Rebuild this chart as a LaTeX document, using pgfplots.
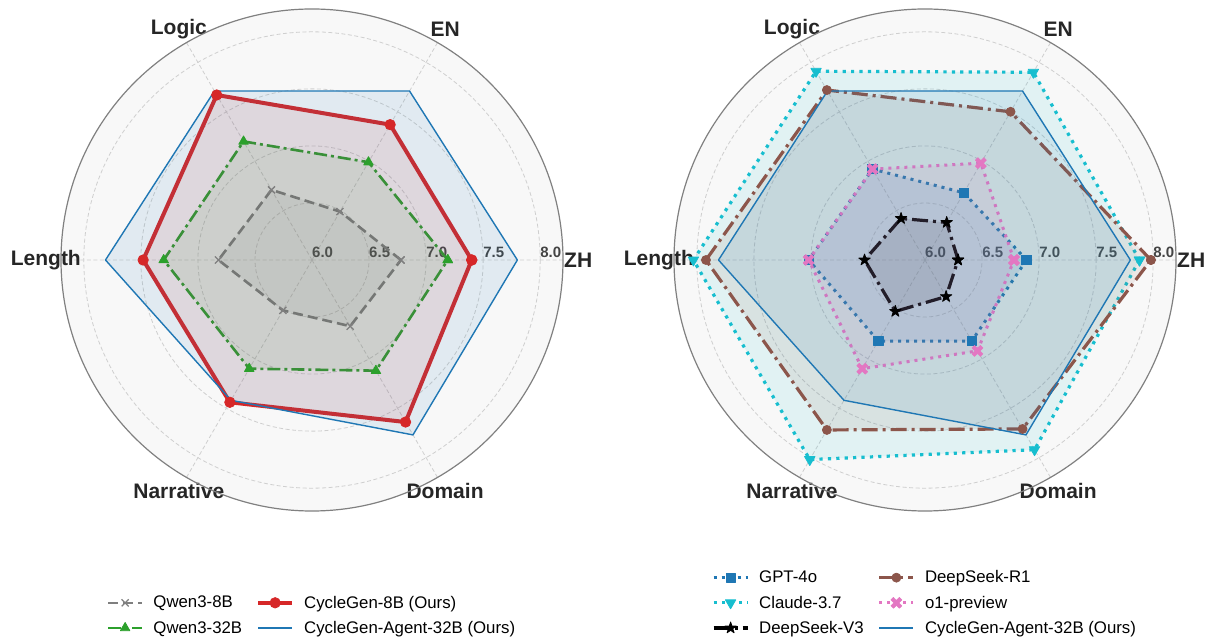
\documentclass[border=0pt]{standalone}
\usepackage{pgfplots}
\pgfplotsset{compat=1.18}
\usepackage{pgfplotstable}
\usepgfplotslibrary{polar}
\usepackage{fontspec}
\setmainfont{Liberation Sans}
\definecolor{tabblue}{HTML}{1F77B4}
\definecolor{tabred}{HTML}{D62728}
\definecolor{tabgreen}{HTML}{2CA02C}
\definecolor{tabgray}{HTML}{7F7F7F}
\definecolor{tabbrown}{HTML}{8C564B}
\definecolor{tabpink}{HTML}{E377C2}
\definecolor{tabcyan}{HTML}{17BECF}
\definecolor{bgc}{HTML}{F8F8F8}
\definecolor{gridc}{HTML}{CFCFCF}
\definecolor{framec}{HTML}{808080}
\definecolor{labc}{HTML}{262626}
\definecolor{tickc}{HTML}{444444}

\pgfdeclareplotmark{fstar}{%
 \pgfpathmoveto{\pgfpointpolar{90}{\pgfplotmarksize}}%
 \pgfpathlineto{\pgfpointpolar{126}{0.382\pgfplotmarksize}}%
 \pgfpathlineto{\pgfpointpolar{162}{\pgfplotmarksize}}%
 \pgfpathlineto{\pgfpointpolar{198}{0.382\pgfplotmarksize}}%
 \pgfpathlineto{\pgfpointpolar{234}{\pgfplotmarksize}}%
 \pgfpathlineto{\pgfpointpolar{270}{0.382\pgfplotmarksize}}%
 \pgfpathlineto{\pgfpointpolar{306}{\pgfplotmarksize}}%
 \pgfpathlineto{\pgfpointpolar{342}{0.382\pgfplotmarksize}}%
 \pgfpathlineto{\pgfpointpolar{18}{\pgfplotmarksize}}%
 \pgfpathlineto{\pgfpointpolar{54}{0.382\pgfplotmarksize}}%
 \pgfpathclose
 \pgfusepathqfillstroke}
\pgfdeclareplotmark{fX}{%
 \pgftransformrotate{45}%
 \pgfpathmoveto{\pgfpoint{-0.3\pgfplotmarksize}{\pgfplotmarksize}}%
 \pgfpathlineto{\pgfpoint{0.3\pgfplotmarksize}{\pgfplotmarksize}}%
 \pgfpathlineto{\pgfpoint{0.3\pgfplotmarksize}{0.3\pgfplotmarksize}}%
 \pgfpathlineto{\pgfpoint{\pgfplotmarksize}{0.3\pgfplotmarksize}}%
 \pgfpathlineto{\pgfpoint{\pgfplotmarksize}{-0.3\pgfplotmarksize}}%
 \pgfpathlineto{\pgfpoint{0.3\pgfplotmarksize}{-0.3\pgfplotmarksize}}%
 \pgfpathlineto{\pgfpoint{0.3\pgfplotmarksize}{-\pgfplotmarksize}}%
 \pgfpathlineto{\pgfpoint{-0.3\pgfplotmarksize}{-\pgfplotmarksize}}%
 \pgfpathlineto{\pgfpoint{-0.3\pgfplotmarksize}{-0.3\pgfplotmarksize}}%
 \pgfpathlineto{\pgfpoint{-\pgfplotmarksize}{-0.3\pgfplotmarksize}}%
 \pgfpathlineto{\pgfpoint{-\pgfplotmarksize}{0.3\pgfplotmarksize}}%
 \pgfpathlineto{\pgfpoint{-0.3\pgfplotmarksize}{0.3\pgfplotmarksize}}%
 \pgfpathclose
 \pgfusepathqfillstroke}

% angle: 0=ZH, 60=EN, 120=Logic, 180=Length, 240=Narrative, 300=Domain
\pgfplotstableread{
ang q8   q32  c8   agent
0   6.78 7.19 7.40 7.80
60  6.49 6.99 7.37 7.71
120 6.71 7.20 7.67 7.71
180 6.82 7.30 7.48 7.81
240 6.51 7.10 7.44 7.42
300 6.67 7.12 7.64 7.77
360 6.78 7.19 7.40 7.80
}\lefttab
\pgfplotstableread{
ang gpt  claude dsv3 dsr1 o1   agent
0   6.89 7.88   6.29 7.98 6.78 7.80
60  6.68 7.90   6.38 7.50 6.98 7.71
120 6.92 7.91   6.42 7.72 6.92 7.71
180 7.02 8.03   6.53 7.92 7.02 7.81
240 6.82 8.02   6.52 7.72 7.10 7.42
300 6.82 7.92   6.37 7.71 6.92 7.77
360 6.89 7.88   6.29 7.98 6.78 7.80
}\righttab

\tikzset{catlab/.style={font=\fontsize{21}{21}\selectfont\bfseries, text=labc}}
\pgfplotsset{
 sQ8/.style={tabgray, line width=2.6pt, line join=round, dash pattern=on 10pt off 5pt, mark=x, mark size=5pt, mark options={solid, line width=1.3pt, fill opacity=1}},
 sQ32/.style={tabgreen, line width=2.6pt, line join=round, dash pattern=on 13pt off 4pt on 3pt off 4pt, mark=triangle*, mark size=5.5pt, mark options={solid, line width=0.8pt, fill opacity=1}},
 sC8/.style={tabred, line width=4pt, line join=round, solid, mark=*, mark size=5.2pt, mark options={solid, line width=0.8pt, fill opacity=1}},
 sAg/.style={tabblue, line width=1.4pt, line join=round, solid},
 sGPT/.style={tabblue, line width=3pt, line join=round, dash pattern=on 3pt off 5pt, mark=square*, mark size=4.7pt, mark options={solid, line width=0.8pt, fill opacity=1}},
 sCl/.style={tabcyan, line width=3.2pt, line join=round, dash pattern=on 3.2pt off 5.2pt, mark=triangle*, mark size=6pt, mark options={solid, rotate=180, line width=0.8pt, fill opacity=1}},
 sV3/.style={black, line width=3.2pt, line join=round, dash pattern=on 16pt off 5pt on 3pt off 5pt, mark=fstar, mark size=6pt, mark options={solid, fill opacity=1, line width=0.8pt}},
 sR1/.style={tabbrown, line width=3.2pt, line join=round, dash pattern=on 16pt off 5pt on 3pt off 5pt, mark=*, mark size=4.5pt, mark options={solid, line width=0.8pt, fill opacity=1}},
 sO1/.style={tabpink, line width=3pt, line join=round, dash pattern=on 3pt off 5pt, mark=fX, mark size=6pt, mark options={solid, fill opacity=1, line width=0.5pt}},
 radar/.style={
  scale only axis, width=502pt, height=502pt,
  xmin=0, xmax=360, ymin=0, ymax=2.2,
  xtick={0,60,...,300}, xticklabels={},
  ytick={0,0.5,1,1.5,2}, yticklabels={6.0,6.5,7.0,7.5,8.0},
  xmajorgrids, ymajorgrids,
  major grid style={gridc, dash pattern=on 4pt off 2.5pt, line width=0.8pt},
  axis line style={draw=none},
  major tick length=0pt,
  yticklabel style={anchor=base west, inner sep=0pt, yshift=2.7pt, font=\fontsize{15}{15}\selectfont\bfseries, text=tickc},
  clip=false,
  legend columns=2,
  legend cell align=left,
  legend image code/.code={\draw[mark repeat=2, mark phase=2, ##1] plot coordinates {(0pt,0pt) (17pt,0pt) (34pt,0pt)};},
  legend style={draw=none, fill=none, font=\fontsize{16.8}{18}\selectfont, at={(0.5,-0.255)}, anchor=south,
    row sep=7.5pt,
    /tikz/every odd column/.append style={column sep=8pt},
    /tikz/every even column/.append style={column sep=12pt}},
 },
}

\begin{document}
\begin{tikzpicture}
\useasboundingbox (0,0) rectangle (1209pt,640pt);
\fill[bgc] (312pt,380pt) circle[radius=251pt];
\fill[bgc] (925pt,380pt) circle[radius=251pt];

\begin{polaraxis}[radar, at={(312pt,380pt)}, anchor=center]
\addplot[sQ8, fill=tabgray, fill opacity=0.1, forget plot] table[x=ang, y expr=\thisrow{q8}-6] {\lefttab};
\addplot[sQ32, fill=tabgreen, fill opacity=0.1, forget plot] table[x=ang, y expr=\thisrow{q32}-6] {\lefttab};
\addplot[sC8, fill=tabred, fill opacity=0.1, forget plot] table[x=ang, y expr=\thisrow{c8}-6] {\lefttab};
\addplot[sAg, fill=tabblue, fill opacity=0.1, forget plot] table[x=ang, y expr=\thisrow{agent}-6] {\lefttab};
\addlegendimage{sQ8}\addlegendentry{Qwen3-8B}
\addlegendimage{sC8}\addlegendentry{CycleGen-8B (Ours)}
\addlegendimage{sQ32}\addlegendentry{Qwen3-32B}
\addlegendimage{sAg}\addlegendentry{CycleGen-Agent-32B (Ours)}
\node[catlab] at (axis cs:0,2.333) {ZH};
\node[catlab] at (axis cs:60,2.333) {EN};
\node[catlab] at (axis cs:120,2.333) {Logic};
\node[catlab] at (axis cs:180,2.333) {Length};
\node[catlab] at (axis cs:240,2.333) {Narrative};
\node[catlab] at (axis cs:300,2.333) {Domain};
\end{polaraxis}

\begin{polaraxis}[radar, at={(925pt,380pt)}, anchor=center]
\addplot[sGPT, fill=tabblue, fill opacity=0.1, forget plot] table[x=ang, y expr=\thisrow{gpt}-6] {\righttab};
\addplot[sCl, fill=tabcyan, fill opacity=0.1, forget plot] table[x=ang, y expr=\thisrow{claude}-6] {\righttab};
\addplot[sV3, fill=black, fill opacity=0.1, forget plot] table[x=ang, y expr=\thisrow{dsv3}-6] {\righttab};
\addplot[sR1, fill=tabbrown, fill opacity=0.1, forget plot] table[x=ang, y expr=\thisrow{dsr1}-6] {\righttab};
\addplot[sO1, fill=tabpink, fill opacity=0.1, forget plot] table[x=ang, y expr=\thisrow{o1}-6] {\righttab};
\addplot[sAg, fill=tabblue, fill opacity=0.1, forget plot] table[x=ang, y expr=\thisrow{agent}-6] {\righttab};
\addlegendimage{sGPT}\addlegendentry{GPT-4o}
\addlegendimage{sR1}\addlegendentry{DeepSeek-R1}
\addlegendimage{sCl}\addlegendentry{Claude-3.7}
\addlegendimage{sO1}\addlegendentry{o1-preview}
\addlegendimage{sV3}\addlegendentry{DeepSeek-V3}
\addlegendimage{sAg}\addlegendentry{CycleGen-Agent-32B (Ours)}
\node[catlab] at (axis cs:0,2.333) {ZH};
\node[catlab] at (axis cs:60,2.333) {EN};
\node[catlab] at (axis cs:120,2.333) {Logic};
\node[catlab] at (axis cs:180,2.333) {Length};
\node[catlab] at (axis cs:240,2.333) {Narrative};
\node[catlab] at (axis cs:300,2.333) {Domain};
\end{polaraxis}

\draw[framec, line width=1.2pt] (312pt,380pt) circle[radius=251pt];
\draw[framec, line width=1.2pt] (925pt,380pt) circle[radius=251pt];
\end{tikzpicture}
\end{document}
